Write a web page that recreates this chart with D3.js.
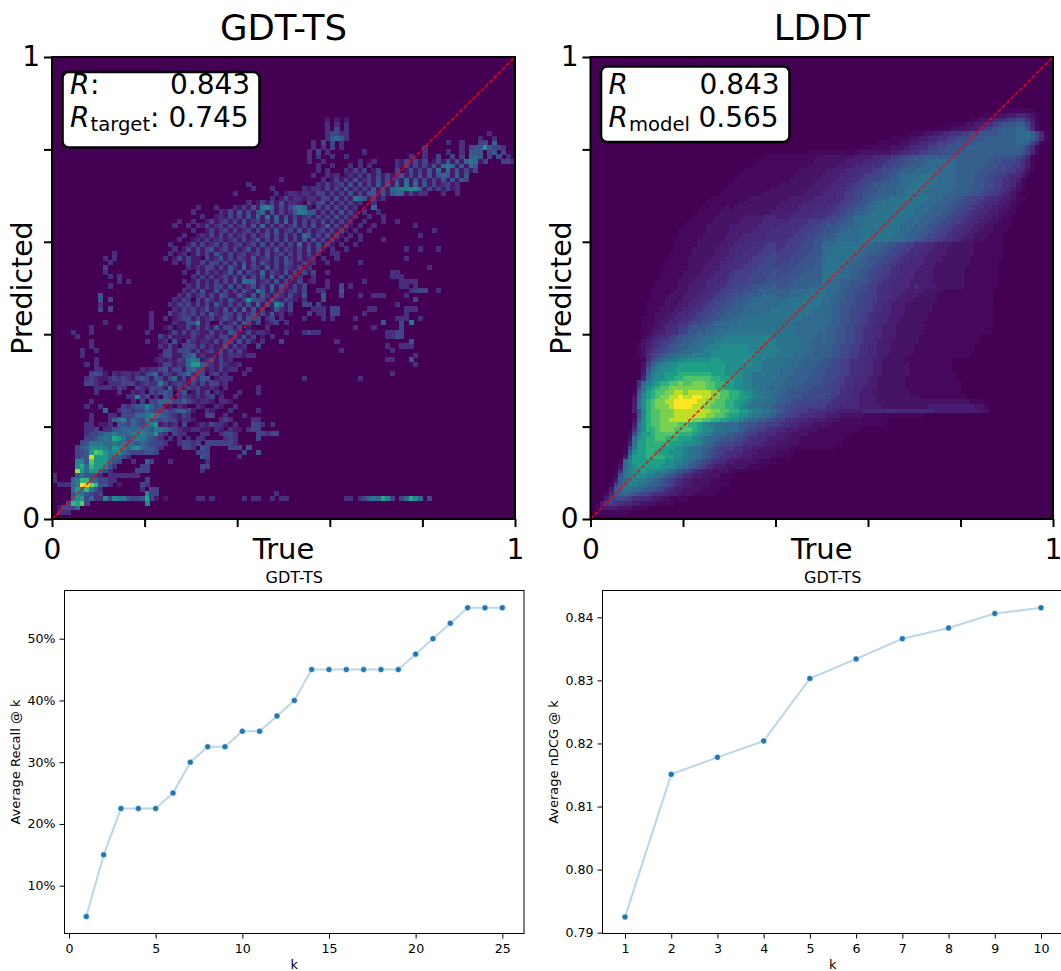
<!DOCTYPE html>
<html>
<head>
<meta charset="utf-8">
<script src="https://cdnjs.cloudflare.com/ajax/libs/d3/7.8.5/d3.min.js"></script>
<style>
html,body{margin:0;padding:0;background:#fff;overflow:hidden}
svg{display:block;font-family:"DejaVu Sans",sans-serif}
</style>
</head>
<body>
<svg id="chart" width="1061" height="971"></svg>
<script>
// Line-chart data
const recallK = d3.range(1, 26);
const recallValues = [5,15,22.5,22.5,22.5,25,30,32.5,32.5,35,35,37.5,40,45,45,45,45,45,45,47.5,50,52.5,55,55,55];
const ndcgK = [1,2,3,4,5,6,7,8,9,10];
const ndcgValues = [0.7925,0.8151,0.8178,0.8204,0.8303,0.8334,0.8366,0.8383,0.8406,0.8415];
const recallTicks = [10,20,30,40,50];
const ndcgTicks = [0.79,0.80,0.81,0.82,0.83,0.84];

// Heatmap levels. Index = row counted from the bottom.
// GDT-TS: "startColumn:hexDigits" segments, level/15 on viridis.
const gdtRows = [
"",
"1:222",
"1:13335",
"3:3a9b3 20:7",
"4:5783522737 14:664334931 24:1 31:22 34:2 41:2 43:22 47:2 49:22 63:22 66:23565973 75:35975 81:3",
"4:4764323 20:733 48:2",
"4:586a642 19:2 21:33",
"1:222 4:56ffca44 12:2 14:1 19:32",
"0:2 4:56aa553322 20:3",
"0:2 5:454432 12:2222222",
"5:d8588532 18:333 32:2",
"5:795a88742 19:33 32:33",
"5:774b888543 17:2 20:53 25:2 33:2",
"5:344e88865432 32:43 40:2",
"5:3348ba867854333443 31:333 41:3 44:4",
"5:3457776587657854432 28:332 32:43 38:333 42:4",
"6:3466655656554543332 27:23323 33:3333332",
"7:33456598645665432 25:2 27:2 29:2 31:22 37:232 44:3",
"7:233455655566755832 26:322 32:22 36:2332 44:33 46:233",
"7:22302244555565466543211221 33:1 35:21 38:211 42:233",
"7:2201120443543568121203 31:1213 35:221 39:2 43:33 45:2 47:2",
"8:2 12:2 13:5573543644343 26:312 29:21 36:232 43:22",
"8:2 12:22 15:333 18:5567754 25:32132 33:33 37:2 41:2",
"11:5 14:2332 18:33 20:543343355 29:31 33:21 38:2 44:2",
"7:2 10:2 15:323 18:44 20:75341 25:1 27:21 31:21 35:21 39:2",
"8:2 17:2 19:30335553 27:353 30:212 33:21 36:221",
"16:2272302 24:43 27:2321 31:212 34:3 36:2 39:2",
"9:2 14:2 17:212 21:3231 24:43 27:24 30:13 32:1 33:3 35:21 40:2 44:2",
"9:22 11:2213 15:2 18:3213 22:3312 25:5 26:1 27:31 29:32311 34:21 37:2 44:2",
"7:33210222 15:3 16:3312 20:322 23:63123 28:21 30:3 31:1 32:31 34:33 36:12",
"7:2321123 14:2321 18:343 21:1 22:431 25:35 27:13 29:14 31:244 35:122 38:2 54:2 66:2",
"8:3431 13:2122 17:1213 21:45 23:1 24:3213 28:45 30:233 34:23 36:12 41:2 73:2",
"9:22 19:212 22:2 23:34 25:133 28:145 31:33 33:12 35:13 37:122 42:2",
"7:2 9:2 23:1331223 29:5884 33:3213 37:2112 78:2",
"9:2 22:1212132 29:565 32:123 34:4 35:13 37:12 72:22 77:4",
"6:2 23:133113 29:45 31:12 33:1113 37:122 40:212 43:2 78:2",
"6:2 9:2 24:33 26:1333 30:131 33:23131 38:31 40:3 41:1 62:2 73:2",
"8:2 23:2 24:13 26:1 28:33 30:3132 33:12 35:114 38:131 41:2 44:3 72:2 75:222",
"8:2 20:2 23:12 26:4 27:1 29:32 31:12 33:2 34:13 36:13 38:3 39:14 41:13 43:1 45:2 49:3 61:2 77:4",
"5:2 23:3 24:13 26:111 29:13 31:113 34:213 37:3 38:13 40:14 42:13 45:1 47:2 72:2233",
"4:2 8:2 20:2 25:13 27:13 29:132 32:113 35:12 37:14 39:3 40:113 43:122 46:1 50:2 54:2322 72:2233",
"8:2 14:2 21:2 24:12 27:113 30:13 32:13 34:14 36:13 38:3 39:13 42:1 46:2 65:2 69:2 75:3",
"11:2 21:2 26:2113 30:37 32:12 36:3 37:12 39:4 40:14 42:3 43:13 46:12 48:3 50:2 71:4 75:3 77:6",
"21:2 24:2 26:123 29:3 30:131 33:2 34:3 35:12 37:4 38:21 40:4 41:14 43:3 44:3 46:23 49:2 54:2 58:2 60:2 65:2 74:22 76:2 79:2",
"21:2 25:3 26:12 28:32 30:3 31:13 33:14 35:213 38:31 40:3 41:12 43:4 44:13 46:14 48:12 51:1 55:3 57:22 60:33 67:2 76:2",
"10:3 12:3 26:2132 30:312 33:4 34:12 36:14 38:14 40:15 42:14 44:13 47:14 49:2 50:13 56:222 60:33 68:22 76:222",
"10:2 25:2132 29:3 30:131 33:3 34:14 36:21 38:3 39:13 41:14 43:15 45:14 47:17 49:5 50:13 54:33 57:3 74:2",
"10:4 12:3 26:2132 31:3 32:14 34:213 37:14 39:213 42:84 44:3 45:314 48:213 51:21 54:2 58:4 78:3",
"10:4 27:2131 31:23 33:13 35:14 37:31 39:14 41:21 43:4 44:14 46:213 49:213 52:11 54:4 58:4 62:3 66:2 69:222 76:2",
"28:2 29:13 31:14 33:113 35:4 36:13 38:13 40:14 42:213 44:64 46:14 48:13 50:12 52:3 53:13 57:22 62:4 77:233 80:3 83:2",
"12:2 29:2 30:13 32:13 34:13 36:31 38:41 40:3 41:12 43:41 45:3 46:15 48:14 50:21 52:3 53:13 59:2 62:3 64:2 75:22 78:2",
"14:2 16:2 28:2 30:13 32:12 34:13 36:13 38:14 40:1555 44:12 46:31 48:41 50:31 52:13 55:12 59:2 67:2 75:2222",
"12:2 14:2 30:2 31:13 33:13 35:12 37:31 39:31 41:4 42:13 44:14 46:15 48:14 50:13 52:12 56:2 73:222",
"11:2 28:2 31:3 32:13 34:12 36:12 38:41 40:4 41:13 43:21 45:5 46:13 48:21 50:4 51:13 53:13 55:13 59:2 73:22",
"11:3 29:2 30:12 32:13 34:3 35:13 37:14 39:21 41:5 42:13 44:21 46:4 47:13 49:13 51:21 53:3 54:12 81:2",
"12:2 26:2 28:13 30:113 33:13 35:3 36:13 38:14 40:14 42:13 44:14 46:21 48:3 49:14 51:31 53:13 55:12 59:2 66:2",
"11:2 13:2 24:2 26:13 28:13 30:11 33:3 34:12 36:4 37:13 39:13 41:21 43:4 44:12 46:3 47:13 49:14 51:21 53:3 54:12 56:2 58:2 61:2 76:2",
"13:2 25:2 27:12 30:13 32:13 34:14 36:21 38:3 39:12 41:3 42:12 44:3 45:14 47:12 49:3 50:13 52:13 54:13 56:12 60:22",
"26:2 28:13 30:13 32:13 34:4 35:12 37:3 38:13 40:12 42:4 43:13 45:13 47:14 49:13 51:21 53:3 54:14 56:13 58:1 60:2 63:2 76:2 79:2 83:2",
"25:2 29:13 31:13 33:12 35:3 36:13 38:12 40:3 41:12 43:3 44:14 46:13 48:13 50:13 52:15 54:13 56:14 58:13 60:1 62:2 65:2",
"27:2 30:12 32:13 34:12 36:3 37:12 39:3 40:13 42:12 44:4 45:13 47:13 49:14 51:13 53:14 55:14 57:13 59:13 61:1 63:2 66:2 71:2",
"28:2 31:12 33:13 35:13 37:13 39:12 41:3 42:13 44:12 46:4 47:13 49:13 51:13 53:15 55:4 56:13 58:14 60:13 62:1 64:2 66:2 79:2",
"30:2 33:13 35:12 37:3 38:13 40:12 42:3 43:13 45:13 47:14 49:12 51:3 52:14 54:13 56:12 58:3 59:13 61:13 63:1 65:2 68:2 82:2",
"26:2 29:2 31:2 32:13 34:12 36:3 37:13 39:12 41:3 42:14 44:15 46:13 48:13 50:12 52:4 53:13 55:14 57:12 59:5 60:13 62:13 64:1 66:2 69:2 78:2",
"27:2 30:2 33:13 35:12 37:3 38:13 40:14 42:12 44:3 45:13 47:14 49:15 51:14 53:13 55:13 57:14 59:13 61:13 63:12 67:2 71:2 74:2",
"32:2 35:12 37:13 39:13 41:14 43:15 45:16 47:15 49:14 51:13 53:12 55:3 56:13 58:13 60:14 62:13 64:12 68:2 71:2",
"30:2 36:2 37:13 39:14 41:13 43:14 45:5 46:14 48:13 50:12 52:4664 56:4 57:13 59:13 61:14 63:13 65:1 67:2 70:2",
"31:2 35:2 39:2 40:13 42:14 44:16 46:75 48:13 50:13 52:565 55:1 57:3 58:13 60:13 62:13 64:12 69:5",
"42:2 44:13 46:13 48:14 50:12 52:2 53:1 55:3 56:13 58:4 59:13 61:13 63:13 65:12 69:2",
"47:2 49:13 51:12 53:2 54:12 56:2 57:13 59:3 60:14 62:13 64:16 66:5 67:4 68:13 70:12",
"39:2 48:2 50:12 52:2 53:12 55:2 56:13 58:3 59:13 61:13 63:14 65:13 67:144 70:14 72:14 74:55 76:13 78:12 80:2 84:2 87:2",
"43:2 47:2 54:2 55:12 57:2 58:13 60:13 62:14 64:13 66:13 68:14 70:14 72:1556677 79:5 80:13 82:13 84:13 86:12",
"42:2 57:2 58:13 60:12 62:3 63:14 65:14 67:13 69:14 71:14 73:15 75:16 77:15 79:14 81:13 83:12 85:3 86:12",
"49:2 58:2 60:13 62:13 64:14 66:12 68:3 69:14 71:13 73:13 75:15 77:14 79:13 81:13 83:14 85:14 87:143",
"56:2 59:2 60:12 63:12 65:13 67:13 69:13 71:13 73:12 75:4 76:13 78:14 80:14 82:14 84:54 86:15 88:14",
"57:2 59:2 63:2 64:13 66:13 69:13 74:3 76:14 78:13 80:14 82:15 84:15 86:14 88:13 90:13",
"57:2 60:2 64:2 66:2 68:2 74:2 75:13 77:13 79:13 81:14 83:1565 87:14 89:154",
"55:2 58:2 66:2 69:2 74:2 75:13 77:13 79:13 82:13 84:14 86:14 88:1565 92:13 97:332",
"55:2 57:2 60:2 63:2 77:2 80:2 83:3 86:3 88:3 90:554 94:3 96:3 98:2",
"55:2 57:3 59:2 67:2 80:2 85:2 88:2 90:444 94:34 97:3",
"56:2 58:2 60:3 62:2 80:2 88:2 90:34484 95:332",
"56:2 58:3 60:3 62:2 85:2 88:2 92:33 95:5",
"59:24542 92:2 95:2",
"59:23322 94:2",
"59:2 61:3 63:2",
"59:2 61:2 63:2",
"59:1 61:1 63:1"
];

// LDDT: one character per column from column 0 (groups of ten), base-20 level.
const lddtRows = [
"",
"0111111100",
"0123332221 1100000000",
"0035655443 3222111100",
"0003677765 5443322111 1000000000",
"0001489a98 7765544332 2211111000",
"0000399bba a988765433 2222111100",
"0000169bcc bba9987654 3322221111",
"0000039acc cbba987654 3322221111",
"0000018bcd ddccba9876 5433222211 1",
"0000014bcd deddccba98 7654332222 1111",
"0000002acd eeeeedddcb a987654332 2222111100",
"0000001ace eeeeeeddcc ba98765443 3222221111",
"00000003be eeffffeedd cbba987655 4433322221 111",
"000000019d eeffeeeddd cbba987665 5443332222 1111",
"000000016c eefffeeedd cbba998766 6554433322 2221111111 111",
"000000003b eefffffeee dddcba9877 7665544333 2222211111 1111",
"000000002a deffggfffe eedcbaa988 8776554433 3322211111 11111",
"0000000017 ceefgggggf ffeddcbaa9 9887665544 3332222111 111111",
"0000000005 bdffghhhgg ggfeddcbba aa98776655 4433322221 11111111",
"0000000003 bdfgghhhhg gffedccbba aa99887766 6554433322 2211111111 1111",
"0000000002 9dfgghhiii iihhggffe eddcbaa998 7665544433 3322211111 11111",
"0000000001 8dfgghhhii iiiiihhggf eeddcbbaa9 8776655544 4333222221 1111111111 11",
"0000000003 7cfgghhhii iiiiiihhgg ffeedccbba 9877666555 4443333334 4444554444 4444333333 333322",
"0000000003 bdfghhhijj jjiihhgggf fedcbbbaa9 8877766666 6555444433 3332222222 2223333333 333221",
"0000000003 adfghhiijj jjjiihhggf feedcbbbaa 9988777776 6655544433 3322222222 2222222222 2211100",
"0000000002 9cefghhiij iijjiihhgg ffeedccbba a998887777 7665554433 3322222222 2111111111 1",
"0000000001 8cefgghhii hiiiiihhgg ffeddcbbba a998888777 7766554433 3222222221 1111111111",
"0000000000 6bdefgghhh hhhhhggffe eddccbbbaa aa99988877 7766555443 3322222211 1111111111",
"0000000000 5acdeffggh gghhhggffe eddccbbbba aa99998888 7766655444 3322222211 1111111111",
"0000000000 04acddeeff ggggggffee eddccbbbbb aaa9999888 7776655444 3322222211 111111111",
"0000000000 039cddeeef ffffffeeed dddccbbbbb baaa999988 8777665554 4332222221 111111111",
"0000000000 028bcdddee eeeeeeeeed dddccccbbb baaa999988 8777665554 4332222221 11111111",
"0000000000 0269bccdde eeeeeeeeed dddddccbbb bbaaa99998 8877665554 4332222221 11111111",
"0000000000 01478abbcc ddddddeedd dddddcccbb bbaaaa9999 8877665554 4332222211 11111111",
"0000000000 1256789aab bbccccdddd ddddddcccc bbbbaaaa99 9988776655 4433222221 1111111111 11",
"0000000000 1245678899 aabbccdddd ddddcccccc cbbbbaaa99 9988776655 4433322222 1111111111 111",
"0000000000 1234567889 9aabbcccdd ddddcccccc bbbbbaaa99 9988776655 4433322222 1111111111 111",
"0000000000 0234566788 99aabbbccc cccccccccc bbbbbaaa99 a998877665 5433322222 2111111111 1111",
"0000000000 0123455678 899aabbbbc cccccccccb bbbbbaaaa9 a998877665 5443332222 2111111111 1111",
"0000000000 0112334556 78899aaabb bbbbbbbbbb bbbbaaaaa9 a998877665 5443332222 2211111111 1111111",
"0000000000 0112234456 6788899aaa bbbbbbbbbb bbbbaaaaaa a998877665 5443332222 2211111111 1111111",
"0000000000 0111233445 5677889aaa aabbbbbbbb bbbbaaaaaa aa99887766 5544333222 2211111111 1111111",
"0000000000 0111223344 5566778899 aaaabbbbbb bbbbbbaaaa aa99887766 5544333222 2221111111 1111111",
"0000000000 0011222334 4556677889 99aaaaabbb bbbbbbbbaa aa99887766 5544433322 2221111111 1111111",
"0000000000 0011122233 4455667788 999aaaaaab bbbbbbbbaa aa99887776 6554433322 2222111111 1111111",
"0000000000 0011112223 3445566778 8999aaaaaa abbbbbbbbb aa99888776 6554433322 2222111111 1111111",
"0000000000 0001112222 3344556677 88899aaaaa aabbbbbbbb aa99988776 6655443333 2222211111 1111111",
"0000000000 0001111222 3334455667 7888999aaa 999aaabbbb baa9988776 6655544333 3222211111 1111111",
"0000000000 0001111122 2333445566 7778889999 999aaaabbb baa9988777 6655544433 3322221111 1111111",
"0000000000 0000111112 2333344556 6777788889 8889999aaa baaa998877 6655544443 4333322222 2111111100",
"0000000000 0000111112 2233344455 6666777788 8888999999 baaa998888 7665544443 3333222222 2111111100",
"0000000000 0000011111 2223334445 6666777788 7888899999 bbbaaa9988 7766554444 3333222222 2111111100",
"0000000000 0000011111 2222333444 5666677778 7778889999 bbbbaa9988 7766655444 3333222222 2111111100",
"0000000000 0000001111 1222333344 5556667777 7777888899 bbbbaa9998 8776655444 4333222222 2111111100",
"0000000000 0000001111 1222233344 5555666777 6777788889 abbbbaa999 8877665544 4433322222 2211111100",
"0000000000 0000000111 1222223334 4555566677 6667778889 abbbbbaa99 8887766554 4433332222 2211111110",
"0000000000 0000000111 1122222333 4445556667 6666777888 aabbbbbaa9 9988776655 5443333222 2221111110",
"0000000000 0000000011 1122222333 4444555666 5666677788 aabbbbbbaa 9998877665 5544333222 2221111110",
"0000000000 0000000011 1112222233 3444455566 5566677788 aaabbbbbba a999887766 5544433322 2221111110",
"0000000000 0000000011 1112222223 3344444555 5556667788 999aaaaabb bbbbbaaa99 8877665544 3322211110",
"0000000000 0000000001 1111222223 3334444455 5555666778 889aaaaabb bbbbbbaa99 9887766554 4332221110",
"0000000000 0000000001 1111122222 3333344445 5555566677 8889aaaabb bbbbbbbaa9 9988776655 4433222111",
"0000000000 0000000000 1111122222 3333334444 4555556667 7888999aab bbbbbbbaaa 9998877665 5443322111 1",
"0000000000 0000000000 0111112222 2233333444 4445555666 7778899aab bbbbbbbbaa a999887766 5544332211 1",
"0000000000 0000000000 0011111222 2223333344 3334444555 5677889aab bbbbbbbbba aa99988776 6554433221 1",
"0000000000 0000000000 0001111122 2222222223 3333444455 5566788999 abbbbbbbbb aaa9998877 6655443322 11",
"0000000000 0000000000 0000111112 1222222222 3333344445 4556677889 aabbbbbbbb baaa999887 7665544332 21",
"0000000000 0000000000 0000011111 1122222222 2333334444 4455667788 9aabbbbbbb bbaaa99988 7766554433 211",
"0000000000 0000000000 0000001111 1111222222 2223333344 4445566778 99aaabbbbb bbbaaa9998 8776655443 3211",
"0000000000 0000000000 0000000011 1111111222 2222223333 4445566778 889999aabb bbaaaaaa99 9988776654 3210",
"0000000000 0000000000 0000000001 1111111112 2222222333 3444556677 889999aabb bbbaaaaaa9 9998877665 432100",
"0000000000 0000000000 0000000000 1111111111 1222222233 3344455667 7889999aab bbbbaaaaa9 9998877665 542100",
"0000000000 0000000000 0000000000 0111111111 1112222223 3334445566 7778899aaa bbbbbaaaa9 9998877665 5431000",
"0000000000 0000000000 0000000000 0011111111 1111222222 3333444556 6677889aaa abbbaaaaa9 9998887766 55431",
"0000000000 0000000000 0000000000 0001111111 1111122222 2333344455 5667788999 aaaaaaaaa9 9999888777 665421",
"0000000000 0000000000 0000000000 0000011111 1111111222 2223333444 5556677889 99aaaaaaa9 9999988877 766531",
"0000000000 0000000000 0000000000 0000001111 1111111122 2222233334 4455667788 899aaaaaa9 9999998887 776531",
"0000000000 0000000000 0000000000 0000000011 1111111112 2222222333 3445566778 8899999999 9999999888 887641",
"0000000000 0000000000 0000000000 0000000000 0000000111 1111111122 2222233445 5667778888 9999999999 9998641",
"0000000000 0000000000 0000000000 0000000000 0000000000 0000000001 1111122234 5556677888 8999999999 9998641",
"0000000000 0000000000 0000000000 0000000000 0000000000 0000000000 0011111223 3445566778 8889999999 99aa9641",
"0000000000 0000000000 0000000000 0000000000 0000000000 0000000000 0000011112 2334455667 7788899999 99aaa9741",
"0000000000 0000000000 0000000000 0000000000 0000000000 0000000000 0000000011 1122334455 6677888899 99aaa9741",
"0000000000 0000000000 0000000000 0000000000 0000000000 0000000000 0000000000 0000011122 2233567889 99aa8410",
"0000000000 0000000000 0000000000 0000000000 0000000000 0000000000 0000000000 0000000011 1223345678 8899741",
"0000000000 0000000000 0000000000 0000000000 0000000000 0000000000 0000000000 0000000000 0011223445 6677531",
"0000000000 0000000000 0000000000 0000000000 0000000000 0000000000 0000000000 0000000000 0000011122 3344321",
"0000000000 0000000000 0000000000 0000000000 0000000000 0000000000 0000000000 0000000000 0000000011 1111110"
];
const lddtLevels = [0,.02,.05,.08,.11,.14,.18,.22,.26,.30,.34,.38,.43,.49,.56,.64,.72,.80,.90,1];

const BINS = 100;
const svg = d3.select("#chart");

function parseGdt(rows){
  const cells = [];
  rows.forEach((s, r) => {
    if (!s) return;
    s.split(" ").forEach(seg => {
      const [start, digits] = seg.split(":");
      [...digits].forEach((ch, i) => {
        const v = parseInt(ch, 16);
        if (v > 0) cells.push({c:+start + i, r, t:v / 15});
      });
    });
  });
  return cells;
}
function parseLddt(rows){
  const cells = [];
  rows.forEach((s, r) => {
    [...s.replace(/ /g, "")].forEach((ch, c) => {
      const v = parseInt(ch, 20);
      if (v > 0) cells.push({c, r, t:lddtLevels[v]});
    });
  });
  return cells;
}

function heatPanel(opts){
  const {x0, x1, y0, y1, title, cells, box} = opts;
  const x = d3.scaleLinear().domain([0,1]).range([x0,x1]);
  const y = d3.scaleLinear().domain([0,1]).range([y1,y0]);
  const g = svg.append("g");
  g.append("rect").attr("x",x0).attr("y",y0).attr("width",x1-x0).attr("height",y1-y0)
    .attr("fill",d3.interpolateViridis(0));
  const cw = x(1/BINS)-x(0), ch = y(0)-y(1/BINS);
  g.append("g").attr("shape-rendering","crispEdges").selectAll("rect").data(cells).join("rect")
    .attr("x",d=>x(d.c/BINS)).attr("y",d=>y((d.r+1)/BINS))
    .attr("width",cw+0.5).attr("height",ch+0.5)
    .attr("fill",d=>d3.interpolateViridis(d.t));
  g.append("line").attr("x1",x(0)).attr("y1",y(0)).attr("x2",x(1)).attr("y2",y(1))
    .attr("stroke","#ff0000").attr("stroke-width",1.4).attr("stroke-dasharray","4 2");

  const ticks = [0,.2,.4,.6,.8,1];
  const fmt = d => d===0 ? "0" : d===1 ? "1" : "";
  const ax = g.append("g").attr("transform",`translate(0,${y1})`)
    .call(d3.axisBottom(x).tickValues(ticks).tickFormat(fmt).tickSize(8).tickPadding(12.5));
  const ay = g.append("g").attr("transform",`translate(${x0},0)`)
    .call(d3.axisLeft(y).tickValues(ticks).tickFormat(fmt).tickSize(8).tickPadding(4));
  [ax,ay].forEach(a=>{
    a.select(".domain").remove();
    a.selectAll("line").attr("stroke","#000").attr("stroke-width",2);
    a.selectAll("text").attr("font-size",28).attr("font-family","DejaVu Sans").attr("fill","#000");
  });
  g.append("rect").attr("x",x0).attr("y",y0).attr("width",x1-x0).attr("height",y1-y0)
    .attr("fill","none").attr("stroke","#000").attr("stroke-width",2);

  g.append("text").attr("x",(x0+x1)/2).attr("y",40).attr("text-anchor","middle")
    .attr("font-size",35.5).text(title);
  g.append("text").attr("x",(x0+x1)/2).attr("y",559).attr("text-anchor","middle")
    .attr("font-size",29).text("True");
  g.append("text").attr("transform",`translate(${x0-20},${(y0+y1)/2}) rotate(-90)`)
    .attr("text-anchor","middle").attr("font-size",28.4).text("Predicted");

  // annotation box
  g.append("rect").attr("x",box.x).attr("y",box.y).attr("width",box.w).attr("height",box.h)
    .attr("rx",6).attr("fill","#fff").attr("stroke","#000").attr("stroke-width",2.6);
  box.lines.forEach(l=>{
    const t = g.append("text").attr("y",l.base).attr("font-size",28);
    t.append("tspan").attr("x",box.labelX).attr("font-style","italic").text("R");
    if (l.sub) t.append("tspan").attr("x",box.subX).attr("dy",4).attr("font-size",19.6).text(l.sub);
    if (l.colon) t.append("tspan").attr("x",l.colonX).attr("dy",l.sub?-4:0).text(":");
    g.append("text").attr("x",l.valX).attr("y",l.base).attr("font-size",28).text(l.val);
  });
}

heatPanel({
  x0:52, x1:515, y0:57, y1:519, title:"GDT-TS", cells:parseGdt(gdtRows),
  box:{x:62.5,y:72,w:197,h:75.5,labelX:70,subX:90.5,lines:[
    {base:94,colon:true,colonX:90,val:"0.843",valX:170},
    {base:127,sub:"target",colon:true,colonX:150,val:"0.745",valX:168.5}
  ]}
});
heatPanel({
  x0:590.5, x1:1053, y0:57, y1:519, title:"LDDT", cells:parseLddt(lddtRows),
  box:{x:601,y:66.5,w:188.5,h:75.5,labelX:608.5,subX:629,lines:[
    {base:94,val:"0.843",valX:699.5},
    {base:127,sub:"model",val:"0.565",valX:698.5}
  ]}
});

function linePanel(o){
  const x = d3.scaleLinear().domain(o.xDomain).range(o.xRange);
  const y = d3.scaleLinear().domain(o.yDomain).range(o.yRange);
  const g = svg.append("g");
  const pts = o.xs.map((k,i)=>[k,o.ys[i]]);
  g.append("path").datum(pts).attr("fill","none").attr("stroke","#1f77b4")
    .attr("stroke-opacity",.3).attr("stroke-width",2)
    .attr("d",d3.line().x(d=>x(d[0])).y(d=>y(d[1])));
  g.selectAll("circle").data(pts).join("circle")
    .attr("cx",d=>x(d[0])).attr("cy",d=>y(d[1])).attr("r",3)
    .attr("fill","#1f77b4").attr("stroke","#fff").attr("stroke-width",.5);
  const ax = g.append("g").attr("transform",`translate(0,${o.bottom})`)
    .call(d3.axisBottom(x).tickValues(o.xTicks).tickFormat(d3.format("d")).tickSize(5).tickPadding(6));
  const ay = g.append("g").attr("transform",`translate(${o.left},0)`)
    .call(d3.axisLeft(y).tickValues(o.yTicks).tickFormat(o.yFmt).tickSize(5).tickPadding(4));
  [ax,ay].forEach(a=>{
    a.select(".domain").remove();
    a.selectAll("line").attr("stroke","#000").attr("stroke-width",1);
    a.selectAll("text").attr("font-size",12.6).attr("font-family","DejaVu Sans").attr("fill","#000");
  });
  g.append("rect").attr("x",o.left).attr("y",o.top).attr("width",o.right-o.left).attr("height",o.bottom-o.top)
    .attr("fill","none").attr("stroke","#000").attr("stroke-width",1);
  const cx=(o.left+o.right)/2;
  g.append("text").attr("x",cx).attr("y",582.5).attr("text-anchor","middle").attr("font-size",16).text("GDT-TS");
  g.append("text").attr("x",cx).attr("y",969).attr("text-anchor","middle").attr("font-size",13).text("k");
  g.append("text").attr("transform",`translate(${o.labelX},762) rotate(-90)`)
    .attr("text-anchor","middle").attr("font-size",13).text(o.yLabel);
}

linePanel({
  left:64.5,right:524,top:590.5,bottom:933.5,labelX:20,
  xDomain:[0,25],xRange:[69,502.3],yDomain:[10,50],yRange:[885.7,638.7],
  xs:recallK,ys:recallValues,xTicks:[0,5,10,15,20,25],yTicks:recallTicks,
  yFmt:d=>d+"%",yLabel:"Average Recall @ k"
});
linePanel({
  left:602.5,right:1063,top:590.5,bottom:933.5,labelX:558,
  xDomain:[1,10],xRange:[625,1041],yDomain:[0.79,0.84],yRange:[932.7,617.3],
  xs:ndcgK,ys:ndcgValues,xTicks:ndcgK,yTicks:ndcgTicks,
  yFmt:d3.format(".2f"),yLabel:"Average nDCG @ k"
});
</script>
</body>
</html>
